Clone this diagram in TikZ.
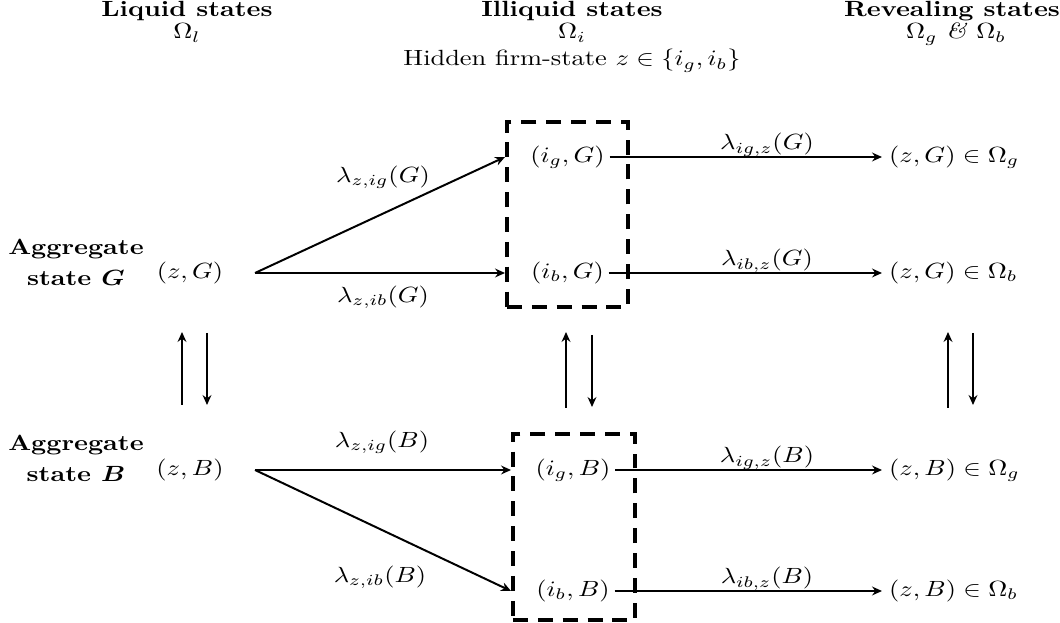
\documentclass[tikz,border=0pt]{standalone}
\usepackage{amsmath,bm}
\usetikzlibrary{arrows.meta}
\newcommand\sx[1]{\scalebox{1.2}[1]{#1}}
\begin{document}
\begin{tikzpicture}[x=0.4545pt,y=-0.4545pt,
  st/.style={inner sep=2pt, text height=7.5pt, text depth=2.5pt},
  rst/.style={inner sep=3pt, text height=7.5pt, text depth=2.5pt, anchor=west},
  hd/.style={inner sep=0pt, anchor=base},
  arr/.style={-{Stealth[length=4.5pt,width=4pt]}, line width=0.9pt},
  lab/.style={inner sep=0pt},
  dbox/.style={draw, line width=1.8pt, dash pattern=on 6.8pt off 4.5pt, inner sep=0pt}]
\useasboundingbox (0,0) rectangle (1060,623);
% headers
\node[hd] (hL) at (187,17) {\sx{\bfseries Liquid states}};
\node[hd] (hLo) at (187,39) {\sx{$\Omega_l$}};
\node[hd] (hI) at (572,17) {\sx{\bfseries Illiquid states}};
\node[hd] (hIo) at (572,39) {\sx{$\Omega_i$}};
\node[hd] (hIh) at (572,66) {\sx{Hidden firm-state $z\in\{i_g,i_b\}$}};
\node[hd] (hR) at (952,17) {\sx{\bfseries Revealing states}};
\node[hd] (hRo) at (956,39) {\sx{$\Omega_g$ \textit{\&} $\Omega_b$}};
% row labels
\node (aG) at (76,265) {\sx{\bfseries\begin{tabular}{@{}c@{}}Aggregate\\[2pt]state $\bm{G}$\end{tabular}}};
\node (aB) at (76,461) {\sx{\bfseries\begin{tabular}{@{}c@{}}Aggregate\\[2pt]state $\bm{B}$\end{tabular}}};
% liquid nodes
\node[st] (zG) at (190,273) {\sx{$(z,G)$}};
\node[st] (zB) at (190,470) {\sx{$(z,B)$}};
\coordinate (zGo) at (255,273);
\coordinate (zBo) at (255,470);
% dashed boxes
\node[dbox, minimum width=55pt, minimum height=84.1pt] (boxG) at (567.5,214.5) {};
\node[dbox, minimum width=55.45pt, minimum height=84.5pt] (boxB) at (574,527) {};
% illiquid nodes
\node[st] (igG) at (567.5,157) {\sx{$(i_g,G)$}};
\node[st] (ibG) at (567.5,273) {\sx{$(i_b,G)$}};
\node[st] (igB) at (573,470) {\sx{$(i_g,B)$}};
\node[st] (ibB) at (573,591) {\sx{$(i_b,B)$}};
% revealing nodes
\node[rst] (rgG) at (882,157) {\sx{$(z,G)\in\Omega_g$}};
\node[rst] (rbG) at (882,273) {\sx{$(z,G)\in\Omega_b$}};
\node[rst] (rgB) at (882,470) {\sx{$(z,B)\in\Omega_g$}};
\node[rst] (rbB) at (882,591) {\sx{$(z,B)\in\Omega_b$}};
% arrows liquid -> illiquid
\draw[arr] (zGo) -- (boxG.west |- igG);
\draw[arr] (zGo) -- (boxG.west |- ibG);
\draw[arr] (zBo) -- (boxB.west |- igB);
\draw[arr] (zBo) -- (boxB.west |- ibB);
\node[lab] (l1) at (383,177) {\sx{$\lambda_{z,ig}(G)$}};
\node[lab] (l2) at (383,297) {\sx{$\lambda_{z,ib}(G)$}};
\node[lab] (l3) at (382,442) {\sx{$\lambda_{z,ig}(B)$}};
\node[lab] (l4) at (380,577) {\sx{$\lambda_{z,ib}(B)$}};
% arrows illiquid -> revealing
\draw[arr] (igG) -- (rgG);
\draw[arr] (ibG) -- (rbG);
\draw[arr] (igB) -- (rgB);
\draw[arr] (ibB) -- (rbB);
\node[lab, anchor=base] (l5) at (767,150) {\sx{$\lambda_{ig,z}(G)$}};
\node[lab, anchor=base] (l6) at (767,266) {\sx{$\lambda_{ib,z}(G)$}};
\node[lab, anchor=base] (l7) at (767,463) {\sx{$\lambda_{ig,z}(B)$}};
\node[lab, anchor=base] (l8) at (767,584) {\sx{$\lambda_{ib,z}(B)$}};
% vertical transitions
\coordinate (v1a) at (182,405); \coordinate (v1b) at (182,332);
\coordinate (v2a) at (207,333); \coordinate (v2b) at (207,405);
\coordinate (v3a) at (566,408); \coordinate (v3b) at (566,332);
\coordinate (v4a) at (592,335); \coordinate (v4b) at (592,407);
\coordinate (v5a) at (948,408); \coordinate (v5b) at (948,332);
\coordinate (v6a) at (973,333); \coordinate (v6b) at (973,405);
\draw[arr] (v1a) -- (v1b);
\draw[arr] (v2a) -- (v2b);
\draw[arr] (v3a) -- (v3b);
\draw[arr] (v4a) -- (v4b);
\draw[arr] (v5a) -- (v5b);
\draw[arr] (v6a) -- (v6b);
\end{tikzpicture}
\end{document}
